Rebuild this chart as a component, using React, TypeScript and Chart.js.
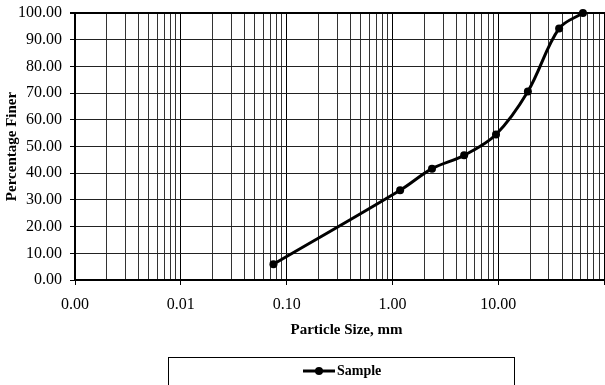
import React, { useEffect, useRef } from 'react';
import { Chart, registerables } from 'chart.js';

Chart.register(...registerables);

// ---- data ----
const sieveSizesMm = [0.075, 1.18, 2.36, 4.75, 9.5, 19, 37.5, 63];
const percentFiner = [5.9, 33.6, 41.7, 46.7, 54.5, 70.6, 94.2, 100];
const seriesLabel = 'Sample';
const xDecades = [0.001, 0.01, 0.1, 1, 10];
const xMajorLabels = ['0.00', '0.01', '0.10', '1.00', '10.00'];
const yTickValues = [0, 10, 20, 30, 40, 50, 60, 70, 80, 90, 100];
const xTitle = 'Particle Size, mm';
const yTitle = 'Percentage Finer';

const SERIF = '"Liberation Serif", "Times New Roman", serif';

const isPow10 = (v: number) => {
  const l = Math.log10(v);
  return Math.abs(l - Math.round(l)) < 1e-6;
};

const labelFor = (v: number) => {
  for (let i = 0; i < xDecades.length; i++) {
    if (Math.abs(v - xDecades[i]) / xDecades[i] < 1e-6) return xMajorLabels[i];
  }
  return '';
};

const legendBoxPlugin = {
  id: 'legendBox',
  afterDraw(chart: any) {
    const ctx = chart.ctx;
    const ds = chart.data.datasets[0];
    ctx.save();
    ctx.strokeStyle = '#000';
    ctx.lineWidth = 1;
    ctx.strokeRect(168.5, 357.5, 346, 60);
    const cy = 371;
    ctx.strokeStyle = '#000';
    ctx.lineWidth = 3;
    ctx.beginPath();
    ctx.moveTo(303, cy);
    ctx.lineTo(335, cy);
    ctx.stroke();
    ctx.fillStyle = '#000';
    ctx.beginPath();
    ctx.arc(319, cy, 4, 0, Math.PI * 2);
    ctx.fill();
    ctx.font = 'bold 14px ' + SERIF;
    ctx.textBaseline = 'middle';
    ctx.textAlign = 'left';
    ctx.fillText(ds.label, 337, cy);
    ctx.restore();
  },
};

export default function App() {
  const ref = useRef<HTMLCanvasElement | null>(null);

  useEffect(() => {
    if (!ref.current) return;
    const chart = new Chart(ref.current, {
      type: 'line',
      data: {
        datasets: [
          {
            label: seriesLabel,
            data: sieveSizesMm.map((x, i) => ({ x, y: percentFiner[i] })),
            borderColor: '#000',
            backgroundColor: '#000',
            borderWidth: 3,
            pointRadius: 4,
            pointBackgroundColor: '#000',
            pointBorderColor: '#000',
            pointBorderWidth: 0,
            tension: 0.35,
            clip: false as any,
          },
        ],
      },
      options: {
        animation: false,
        responsive: true,
        maintainAspectRatio: false,
        layout: { padding: { left: 0, top: 13, right: 2, bottom: 45 } },
        plugins: {
          legend: { display: false },
          tooltip: { enabled: false },
        },
        scales: {
          x: {
            type: 'logarithmic',
            min: 0.001,
            max: 135,
            afterBuildTicks: (scale: any) => {
              const t: any[] = [];
              xDecades.forEach((d) => {
                for (let m = 1; m <= 9; m++) t.push({ value: d * m, major: m === 1 });
              });
              t.push({ value: 100, major: true });
              scale.ticks = t;
            },
            afterFit: (scale: any) => {
              scale.height = 60;
              scale.paddingLeft = 0;
              scale.paddingRight = 0;
            },
            ticks: {
              autoSkip: false,
              maxRotation: 0,
              minRotation: 0,
              padding: 10,
              color: '#000',
              font: { family: SERIF, size: 16 },
              callback: (v: any) => labelFor(Number(v)),
            },
            grid: {
              color: (c: any) => (c.tick && isPow10(c.tick.value) ? '#000' : '#333'),
              tickColor: (c: any) => (c.tick && isPow10(c.tick.value) ? '#000' : 'rgba(0,0,0,0)'),
              lineWidth: 1,
              tickLength: 5,
            },
            border: { display: true, color: '#000', width: 2 },
            title: {
              display: true,
              text: xTitle,
              color: '#000',
              font: { family: SERIF, size: 15, weight: 'bold' },
              padding: { top: 0, bottom: 1 },
            },
          },
          y: {
            type: 'linear',
            min: 0,
            max: 100,
            afterBuildTicks: (scale: any) => {
              scale.ticks = yTickValues.map((v) => ({ value: v }));
            },
            afterFit: (scale: any) => {
              scale.width = 75;
              scale.paddingTop = 0;
              scale.paddingBottom = 0;
            },
            ticks: {
              padding: 8,
              color: '#000',
              font: { family: SERIF, size: 16 },
              callback: (v: any) => Number(v).toFixed(2),
            },
            grid: {
              color: (c: any) => (c.tick && c.tick.value === 100 ? '#000' : '#222'),
              lineWidth: (c: any) => (c.tick && c.tick.value === 100 ? 2 : 1),
              tickColor: '#000',
              tickLength: 5,
            },
            border: { display: true, color: '#000', width: 2 },
            title: {
              display: true,
              text: yTitle,
              color: '#000',
              font: { family: SERIF, size: 15, weight: 'bold' },
              padding: { top: 3, bottom: 0 },
            },
          },
        },
      } as any,
      plugins: [legendBoxPlugin],
    });
    return () => chart.destroy();
  }, []);

  return (
    <div
      style={{
        position: 'fixed',
        left: 0,
        top: 0,
        width: 605,
        height: 385,
        overflow: 'hidden',
        background: '#fff',
      }}
    >
      <div style={{ position: 'relative', width: 622, height: 385 }}>
        <canvas ref={ref} />
      </div>
    </div>
  );
}
